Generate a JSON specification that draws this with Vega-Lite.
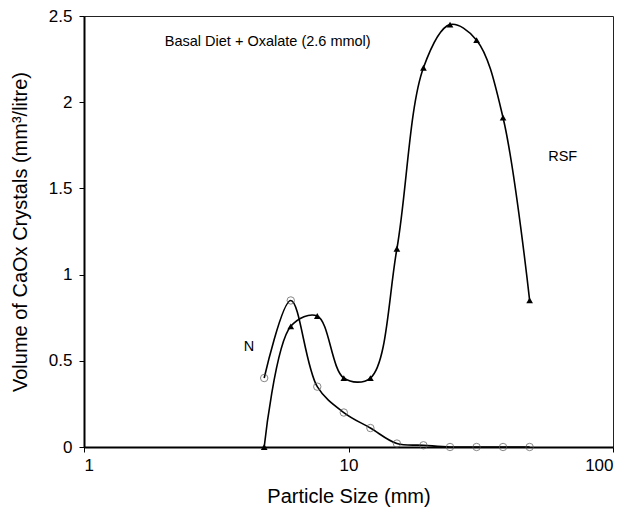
{
  "$schema": "https://vega.github.io/schema/vega-lite/v6.json",
  "width": 529,
  "height": 431,
  "autosize": {"type": "none"},
  "padding": {"left": 84, "top": 16, "right": 15, "bottom": 64},
  "background": "white",
  "view": {"stroke": "#222", "strokeWidth": 1},
  "config": {
    "font": "Liberation Sans",
    "axis": {
      "domainColor": "black", "domainWidth": 2, "tickColor": "black", "tickSize": 5, "tickWidth": 1,
      "labelFont": "Liberation Sans", "labelFontSize": 17, "labelColor": "black",
      "titleFont": "Liberation Sans", "titleFontSize": 20, "titleFontWeight": "normal", "titleColor": "black",
      "grid": false
    }
  },
  "datasets": {
    "pts": [
      {"series": "RSF", "size": 4.8, "volume": 0},
      {"series": "RSF", "size": 6.05, "volume": 0.7},
      {"series": "RSF", "size": 7.62, "volume": 0.76},
      {"series": "RSF", "size": 9.6, "volume": 0.4},
      {"series": "RSF", "size": 12.1, "volume": 0.4},
      {"series": "RSF", "size": 15.24, "volume": 1.15},
      {"series": "RSF", "size": 19.2, "volume": 2.2},
      {"series": "RSF", "size": 24.2, "volume": 2.45},
      {"series": "RSF", "size": 30.5, "volume": 2.36},
      {"series": "RSF", "size": 38.4, "volume": 1.91},
      {"series": "RSF", "size": 48.4, "volume": 0.85},
      {"series": "N", "size": 4.8, "volume": 0.4},
      {"series": "N", "size": 6.05, "volume": 0.85},
      {"series": "N", "size": 7.62, "volume": 0.35},
      {"series": "N", "size": 9.6, "volume": 0.2},
      {"series": "N", "size": 12.1, "volume": 0.11},
      {"series": "N", "size": 15.24, "volume": 0.02},
      {"series": "N", "size": 19.2, "volume": 0.01},
      {"series": "N", "size": 24.2, "volume": 0},
      {"series": "N", "size": 30.5, "volume": 0},
      {"series": "N", "size": 38.4, "volume": 0},
      {"series": "N", "size": 48.4, "volume": 0}
    ],
    "labels": [
      {"text": "Basal Diet + Oxalate (2.6 mmol)", "size": 2.02, "volume": 2.35},
      {"text": "N", "size": 4.02, "volume": 0.58},
      {"text": "RSF", "size": 56.9, "volume": 1.683}
    ]
  },
  "encoding": {
    "x": {"field": "size", "type": "quantitative",
      "scale": {"type": "log", "domain": [1, 100]},
      "axis": {"values": [1, 10, 100], "title": "Particle Size (mm)", "titlePadding": 13, "labelPadding": 5, "format": "d"}},
    "y": {"field": "volume", "type": "quantitative",
      "scale": {"domain": [0, 2.5]},
      "axis": {"values": [0, 0.5, 1, 1.5, 2, 2.5], "format": "~g", "title": "Volume of CaOx Crystals (mm³/litre)", "titlePadding": 18, "labelPadding": 7}}
  },
  "layer": [
    {
      "data": {"name": "pts"},
      "mark": {"type": "line", "interpolate": "catmull-rom", "color": "black", "strokeWidth": 1.6, "clip": true},
      "encoding": {"detail": {"field": "series"}}
    },
    {
      "data": {"name": "pts"},
      "transform": [{"filter": "datum.series === 'N'"}],
      "mark": {"type": "point", "shape": "circle", "filled": false, "stroke": "#555", "strokeWidth": 1, "size": 55}
    },
    {
      "data": {"name": "pts"},
      "transform": [{"filter": "datum.series === 'RSF'"}],
      "mark": {"type": "point", "shape": "triangle-up", "filled": true, "color": "black", "size": 45, "opacity": 1}
    },
    {
      "data": {"name": "labels"},
      "mark": {"type": "text", "align": "left", "baseline": "middle", "fontSize": 14.5, "color": "black"},
      "encoding": {"text": {"field": "text"}}
    }
  ]
}
